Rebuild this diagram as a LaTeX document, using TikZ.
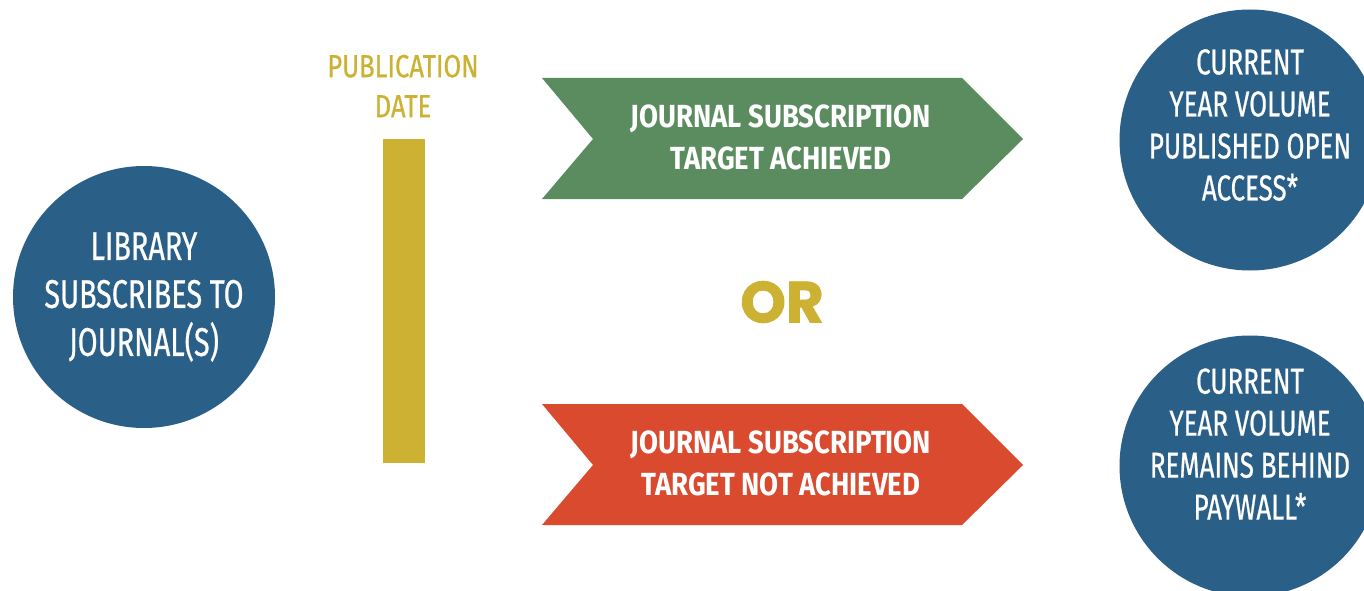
\documentclass[tikz,border=0pt]{standalone}
\usepackage{fontspec}
\newfontfamily\circfont{Fira Sans}[FakeStretch=0.72, FakeBold=0.6]
\newfontfamily\pubfont{Fira Sans}[FakeStretch=0.8, FakeBold=0.6]
\newfontfamily\arrfont{Fira Sans}[FakeStretch=0.86]
\newfontfamily\orfont{Poppins}[FakeBold=1.5]
\definecolor{cblue}{HTML}{2A5F88}
\definecolor{cgreen}{HTML}{5A8C5F}
\definecolor{cred}{HTML}{D94A2E}
\definecolor{cgold}{HTML}{CCB133}
\tikzset{
  bluecirc/.style={circle, fill=cblue, inner sep=0pt, minimum size=262pt},
  circtext/.style={text=white, align=center, font=\circfont\fontsize{36}{42}\selectfont},
  arrtext/.style={text=white, align=center, font=\arrfont\bfseries\fontsize{32}{42}\selectfont}
}
\begin{document}
\begin{tikzpicture}[x=1pt,y=-1pt]
\useasboundingbox (0,0) rectangle (1364,591);
\fill[white] (0,0) rectangle (1364,591);
% left circle
\node[bluecirc] (lib) at (144,297) {};
\node[circtext, font=\circfont\fontsize{40}{48}\selectfont] (libtext) at (lib.center) {LIBRARY\\SUBSCRIBES TO\\JOURNAL(S)};
% publication date
\node[text=cgold, align=center, font=\pubfont\fontsize{32}{40}\selectfont] (pubdate) at (403,86) {PUBLICATION\\DATE};
\fill[cgold] (383,139) rectangle (425,463);
% green chevron
\fill[cgreen] (542,78) -- (962,78) -- (1023,139) -- (962,199) -- (542,199) -- (593,139) -- cycle;
\node[arrtext] (ach) at (781,137) {JOURNAL SUBSCRIPTION\\TARGET ACHIEVED};
% red chevron
\fill[cred] (542,404) -- (962,404) -- (1023,465) -- (962,525) -- (542,525) -- (593,465) -- cycle;
\node[arrtext] (nach) at (781,463) {JOURNAL SUBSCRIPTION\\TARGET NOT ACHIEVED};
% OR
\node[text=cgold, font=\orfont\bfseries\fontsize{58}{64}\selectfont] (or) at (782,302) {OR};
% right circles
\node[bluecirc, minimum size=261pt] (oa) at (1250,140) {};
\node[circtext] (oatext) at (1250,125) {CURRENT\\YEAR VOLUME\\PUBLISHED OPEN\\ACCESS*};
\node[bluecirc, minimum size=261pt] (pw) at (1250,466) {};
\node[circtext] (pwtext) at (1250,444) {CURRENT\\YEAR VOLUME\\REMAINS BEHIND\\PAYWALL*};
\end{tikzpicture}
\end{document}
